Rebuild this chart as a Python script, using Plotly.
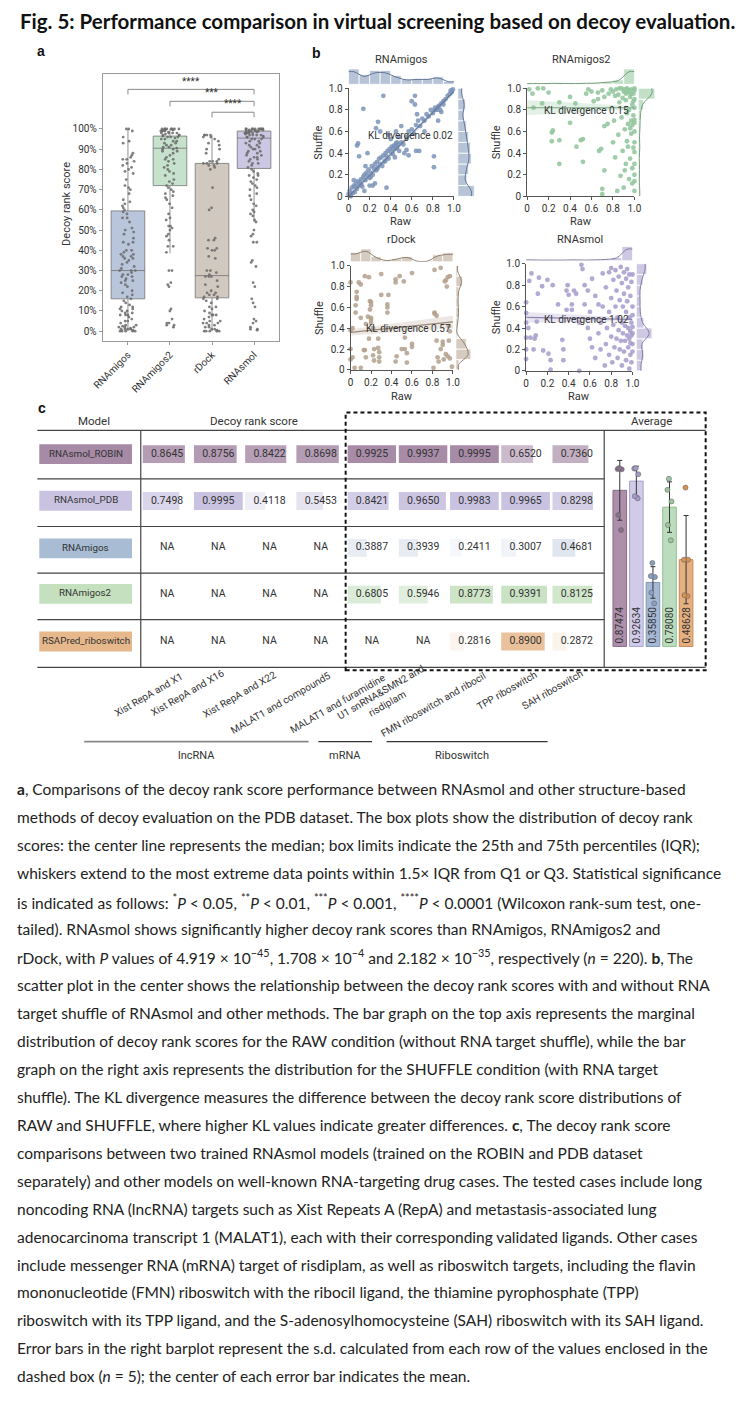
import numpy as np
import pandas as pd
import plotly.graph_objects as go

W, H = 739, 1401
def PX(x): return x / W
def PY(y): return 1 - y / H

FONT = "Roboto, Liberation Sans, Arial, sans-serif"
TXT = "#333333"

# ---------------- panel a data ----------------
box_groups = ["RNAmigos", "RNAmigos2", "rDock", "RNAsmol"]
box_q1 = [0.16, 0.72, 0.165, 0.805]
box_median = [0.30, 0.905, 0.275, 0.955]
box_q3 = [0.595, 0.965, 0.83, 0.99]
box_lower = [0.0, 0.385, 0.0, 0.54]
box_upper = [1.0, 1.0, 0.97, 1.0]
box_fill = ["rgba(140,162,196,0.62)", "rgba(160,206,172,0.6)", "rgba(178,163,148,0.6)", "rgba(172,166,212,0.62)"]

pts_rnamigos = [0, 0, 0, 0, 0.5, 1, 1, 1, 1.5, 2, 2, 2.5, 3, 3, 0, 1, 2, 4, 5, 5, 6, 7, 8, 8, 8, 9, 9, 10, 10, 11,
                11, 12, 12, 13, 14, 15, 16, 17, 18, 19, 20, 22, 23, 24, 25, 25, 26, 27, 27, 28, 28, 29, 30, 30, 30,
                31, 32, 33, 34, 35, 36, 36, 37, 37, 38, 38, 39, 40, 40, 43, 44, 44, 46, 48, 49, 50, 51, 54, 56, 56,
                58, 59, 60, 61, 62, 63, 64, 65, 68, 70, 71, 72, 75, 78, 79, 80, 81, 82, 83, 84, 85, 85, 86, 87, 88,
                93, 94, 96, 99, 100, 100]
pts_rnamigos2 = [2, 3, 3, 4, 4, 6, 10, 11, 22, 23, 24, 30, 30, 39, 42, 42, 45, 47, 48, 50, 51, 52, 52, 55, 56, 58,
                 61, 63, 65, 66, 67, 68, 69, 70, 71, 72, 73, 74, 75, 77, 78, 79, 80, 81, 82, 83, 84, 85, 85, 86, 87,
                 88, 89, 89, 90, 90, 90.5, 91, 91, 92, 92, 93, 93, 94, 94, 95, 95, 95.5, 96, 96, 96, 97, 97, 97, 98,
                 98, 98, 98, 99, 99, 99, 99, 100, 100, 100, 100, 100, 100, 100, 100, 99.5, 99.5, 98.5, 97.5, 96.5]
pts_rdock = [0, 0, 0, 0, 0, 0.5, 1, 1, 2, 2, 3, 3, 4, 4, 4, 5, 5, 6, 7, 8, 8, 8, 9, 10, 11, 12, 12, 14, 15, 16, 16,
             17, 17, 18, 18, 19, 19, 20, 22, 23, 25, 27, 27, 27, 28, 29, 30, 30, 36, 37, 40, 40, 41, 41, 45, 45, 46,
             60, 61, 71, 80, 81, 82, 82, 83, 83, 83, 84, 84, 84, 85, 88, 90, 90, 92, 93, 94, 95, 96, 96, 97, 97, 97, 97]
pts_rnasmol = [0.5, 1, 1, 2, 4, 5, 6, 12, 14, 16, 22, 24, 32, 34, 35, 44, 44, 47, 48, 50, 54, 55, 57, 58, 59, 60, 62,
               63, 65, 67, 68, 70, 71, 72, 73, 74, 75, 76, 77, 77, 78, 79, 80, 81, 82, 83, 83, 84, 85, 85, 86, 86, 87,
               87, 88, 88, 89, 89, 90, 90, 91, 91, 92, 92, 93, 93, 94, 94, 95, 95, 95, 96, 96, 96, 97, 97, 97, 97, 98,
               98, 98, 98, 98, 99, 99, 99, 99, 99, 99, 100, 100, 100, 100, 100, 100, 100, 100, 100, 100, 99.5, 99.5,
               98.5, 98.5, 97.5, 96.5]
box_points = [pts_rnamigos, pts_rnamigos2, pts_rdock, pts_rnasmol]

sig_left = ["RNAmigos", "RNAmigos2", "rDock"]
sig_right = ["RNAsmol", "RNAsmol", "RNAsmol"]
sig_labels = ["****", "***", "****"]
sig_y = [1.196, 1.137, 1.083]

# ---------------- panel b data ----------------
jp_names = ["RNAmigos", "RNAmigos2", "rDock", "RNAsmol"]
jp_rgb = [(123, 147, 184), (143, 196, 154), (179, 160, 140), (166, 155, 203)]
kl_values = [0.02, 0.15, 0.57, 1.02]
kl_pos_x = [0.59, 0.55, 0.57, 0.57]
kl_pos_y = [0.56, 0.79, 0.40, 0.48]
fit_intercept = [0.0, 0.82, 0.36, 0.50]
fit_slope = [0.97, 0.0, 0.10, -0.02]
fit_band_left = [0.02, 0.07, 0.03, 0.05]
fit_band_right = [0.02, 0.015, 0.06, 0.015]

pairs_rnamigos = [(0.00,0.02),(0.01,0.05),(0.02,0.01),(0.03,0.08),(0.04,0.03),(0.05,0.10),(0.06,0.04),(0.07,0.12),
    (0.08,0.07),(0.09,0.14),(0.10,0.10),(0.11,0.13),(0.12,0.16),(0.13,0.09),(0.14,0.18),(0.15,0.20),(0.16,0.15),
    (0.17,0.22),(0.18,0.19),(0.19,0.25),(0.20,0.17),(0.21,0.22),(0.22,0.28),(0.23,0.20),(0.24,0.26),(0.25,0.30),
    (0.26,0.24),(0.27,0.32),(0.28,0.27),(0.29,0.35),(0.30,0.30),(0.31,0.36),(0.32,0.28),(0.33,0.38),(0.34,0.32),
    (0.35,0.40),(0.36,0.37),(0.37,0.42),(0.38,0.35),(0.39,0.44),(0.40,0.41),(0.41,0.46),(0.42,0.39),(0.43,0.47),
    (0.44,0.44),(0.45,0.49),(0.46,0.45),(0.47,0.48),(0.48,0.42),(0.50,0.50),(0.52,0.48),(0.55,0.55),(0.57,0.60),
    (0.60,0.62),(0.62,0.58),(0.64,0.66),(0.66,0.70),(0.68,0.65),(0.70,0.72),(0.72,0.70),(0.74,0.76),(0.76,0.74),
    (0.78,0.80),(0.80,0.77),(0.82,0.82),(0.84,0.80),(0.86,0.84),(0.88,0.86),(0.90,0.88),(0.92,0.90),(0.94,0.93),
    (0.96,0.95),(0.98,0.97),(0.99,0.99),(0.97,0.98),(0.33,0.93),(0.63,0.93),(0.14,0.81),(0.09,0.49),(0.08,0.47),
    (0.28,0.69),(0.26,0.63),(0.30,0.60),(0.38,0.57),(0.40,0.53),(0.18,0.40),(0.10,0.37),(0.60,0.88),(0.63,0.85),
    (0.64,0.42),(0.67,0.42),(0.81,0.27),(0.81,0.37),(0.36,0.08),(0.55,0.43),(0.57,0.38),(0.15,0.05),(0.20,0.10),
    (0.05,0.15),(0.25,0.12),(0.45,0.60),(0.50,0.65),(0.72,0.60),(0.85,0.70),(0.88,0.78),(0.65,0.76),(0.23,0.10),
    (0.16,0.28),(0.44,0.36),(0.53,0.40),(0.48,0.55),(0.02,0.00),(0.03,0.03),(0.06,0.09),(0.12,0.11),(0.21,0.18),
    (0.27,0.25),(0.35,0.33),(0.42,0.44),(0.46,0.50),(0.44,0.47),(0.82,0.80),(0.85,0.83),(0.87,0.80),(0.90,0.85)]
pairs_rnamigos2 = [(0.02,0.99),(0.05,0.95),(0.10,1.00),(0.15,1.00),(0.06,0.82),(0.14,0.86),(0.23,0.59),(0.24,0.61),
    (0.23,0.51),(0.30,0.52),(0.30,0.30),(0.20,0.96),(0.30,0.87),(0.40,0.68),(0.40,0.92),(0.45,0.86),(0.46,0.46),
    (0.50,0.52),(0.52,0.53),(0.52,0.32),(0.55,0.95),(0.57,0.99),(0.60,0.97),(0.62,0.88),(0.66,0.90),(0.67,0.42),
    (0.69,0.44),(0.70,0.02),(0.70,0.07),(0.72,0.24),(0.72,0.65),(0.75,0.67),(0.76,0.95),(0.78,0.99),(0.80,0.50),
    (0.81,0.70),(0.82,0.36),(0.82,0.93),(0.84,0.05),(0.85,0.57),(0.86,0.87),(0.87,0.19),(0.88,0.73),(0.89,0.42),
    (0.90,0.08),(0.90,0.97),(0.91,0.24),(0.91,0.62),(0.92,0.30),(0.92,0.89),(0.93,0.51),(0.93,1.00),(0.94,0.67),
    (0.94,0.46),(0.95,0.16),(0.95,0.80),(0.96,0.92),(0.96,0.35),(0.97,0.70),(0.97,0.99),(0.97,0.58),(0.98,0.26),
    (0.98,0.85),(0.98,0.12),(0.99,0.95),(0.99,0.45),(0.99,0.75),(1.00,1.00),(1.00,0.98),(1.00,0.90),(1.00,0.82),
    (1.00,0.71),(1.00,0.60),(1.00,0.50),(1.00,0.41),(1.00,0.30),(1.00,0.20),(1.00,0.14),(1.00,0.05),(1.00,0.68),
    (0.95,0.98),(0.88,1.00),(0.83,0.99),(0.91,0.99),(0.97,0.95),(0.99,0.88),(0.93,0.77),(0.98,0.66),(0.96,0.63),
    (0.80,0.97),(0.85,0.94),(0.89,0.91),(0.94,0.96),(0.72,0.92),(0.70,0.98),(0.66,0.96),(0.86,1.00),(0.92,0.95)]
pairs_rdock = [(0.00,0.10),(0.00,0.20),(0.00,0.38),(0.00,0.84),(0.02,0.12),(0.02,0.40),(0.04,0.02),(0.05,0.55),
    (0.05,0.62),(0.06,0.70),(0.06,0.75),(0.06,0.68),(0.08,0.84),(0.10,0.50),(0.10,0.82),(0.10,0.02),(0.13,0.19),
    (0.14,0.19),(0.14,0.90),(0.15,0.12),(0.15,0.44),(0.17,0.51),(0.18,0.89),(0.19,0.58),(0.19,0.66),(0.20,0.45),
    (0.20,0.48),(0.20,0.50),(0.18,0.30),(0.20,0.62),(0.20,0.65),(0.22,0.14),(0.22,0.40),(0.23,0.20),(0.23,0.09),
    (0.27,0.30),(0.27,0.21),(0.28,0.12),(0.28,0.17),(0.28,0.08),(0.30,0.92),(0.30,0.72),(0.36,0.63),(0.36,0.55),
    (0.36,0.60),(0.37,0.72),(0.44,0.87),(0.44,0.84),(0.44,0.08),(0.45,0.13),(0.48,0.90),(0.50,0.20),(0.52,0.85),
    (0.53,0.31),(0.53,0.20),(0.55,0.07),(0.55,0.16),(0.60,0.93),(0.60,0.25),(0.60,0.22),(0.81,0.02),(0.82,0.96),
    (0.82,0.55),(0.82,0.54),(0.84,0.28),(0.84,0.52),(0.85,0.12),(0.86,0.08),(0.88,0.98),(0.88,0.20),(0.90,0.24),
    (0.90,0.27),(0.91,0.10),(0.92,0.85),(0.93,0.86),(0.93,0.15),(0.94,0.80),(0.95,0.89),(0.95,0.13),(0.96,0.28),
    (0.96,0.42),(0.97,0.90),(0.97,0.37),(0.97,0.11),(0.99,0.03)]
pairs_rnasmol = [(0.00,0.64),(0.00,0.54),(0.00,0.45),(0.00,0.31),(0.00,0.20),(0.00,0.11),(0.02,0.40),(0.03,0.84),
    (0.04,0.31),(0.05,0.91),(0.07,0.20),(0.08,0.30),(0.09,0.33),(0.10,0.46),(0.11,0.72),(0.12,0.87),(0.15,0.79),
    (0.16,0.19),(0.20,0.85),(0.21,0.16),(0.23,0.10),(0.23,0.01),(0.25,0.80),(0.30,0.62),(0.34,0.29),(0.35,0.10),
    (0.35,0.20),(0.38,0.75),(0.38,0.57),(0.39,0.80),(0.40,0.71),(0.43,0.62),(0.43,0.57),(0.45,0.75),(0.47,0.72),
    (0.50,0.45),(0.50,0.00),(0.52,0.99),(0.53,0.95),(0.55,0.80),(0.55,0.62),(0.58,0.40),(0.58,0.75),(0.60,0.30),
    (0.60,0.55),(0.62,0.86),(0.62,0.22),(0.65,0.12),(0.65,0.70),(0.68,0.35),(0.68,0.62),(0.70,0.20),(0.70,0.45),
    (0.72,0.91),(0.72,0.60),(0.74,0.05),(0.75,0.25),(0.75,0.78),(0.76,0.40),(0.78,0.92),(0.78,0.15),(0.78,0.55),
    (0.80,0.32),(0.80,0.96),(0.80,0.68),(0.81,0.08),(0.82,0.85),(0.82,0.43),(0.83,0.22),(0.84,0.60),(0.84,0.94),
    (0.85,0.30),(0.85,0.75),(0.86,0.12),(0.86,0.50),(0.87,0.88),(0.87,0.38),(0.88,0.20),(0.88,0.66),(0.89,0.97),
    (0.89,0.28),(0.90,0.45),(0.90,0.82),(0.90,0.05),(0.91,0.35),(0.91,0.60),(0.92,0.92),(0.92,0.18),(0.92,0.72),
    (0.93,0.42),(0.93,0.28),(0.94,0.86),(0.94,0.10),(0.94,0.55),(0.95,0.33),(0.95,0.95),(0.95,0.65),(0.96,0.22),
    (0.96,0.40),(0.96,0.78),(0.97,0.30),(0.97,0.02),(0.97,0.90),(0.97,0.50),(0.98,0.37),(0.98,0.15),(0.98,0.70),
    (0.98,0.26),(0.99,0.45),(0.99,0.83),(0.99,0.33),(0.99,0.08),(1.00,0.35),(1.00,0.60),(1.00,0.25),(1.00,0.90),
    (1.00,0.41),(1.00,0.18),(1.00,0.52)]
jp_pairs = [pairs_rnamigos, pairs_rnamigos2, pairs_rdock, pairs_rnasmol]

hist_bins = [0.05, 0.15, 0.25, 0.35, 0.45, 0.55, 0.65, 0.75, 0.85, 0.95]
hist_raw = [[53, 33, 48, 48, 30, 18, 20, 20, 26, 10],
            [2, 2, 3, 2, 2, 3, 4, 8, 15, 53],
            [37, 50, 20, 5, 12, 20, 2, 2, 27, 35],
            [3, 2, 2, 2, 3, 2, 3, 5, 12, 52]]
hist_shuffle = [[55, 30, 35, 45, 42, 35, 28, 20, 25, 15],
                [5, 3, 4, 3, 5, 4, 6, 8, 18, 58],
                [10, 50, 35, 4, 6, 10, 8, 10, 22, 6],
                [18, 25, 22, 52, 25, 15, 14, 14, 22, 35]]

# ---------------- panel c data ----------------
case_labels = ["Xist RepA and X1", "Xist RepA and X16", "Xist RepA and X22", "MALAT1 and compound5",
               "MALAT1 and furamidine", "U1 snRNA&amp;SMN2 and<br>risdiplam", "FMN riboswitch and ribocil",
               "TPP riboswitch", "SAH riboswitch"]
model_names = ["RNAsmol_ROBIN", "RNAsmol_PDB", "RNAmigos", "RNAmigos2", "RSAPred_riboswitch"]
score_robin = [0.8645, 0.8756, 0.8422, 0.8698, 0.9925, 0.9937, 0.9995, 0.6520, 0.7360]
score_pdb = [0.7498, 0.9995, 0.4118, 0.5453, 0.8421, 0.9650, 0.9983, 0.9965, 0.8298]
score_rnamigos = [None, None, None, None, 0.3887, 0.3939, 0.2411, 0.3007, 0.4681]
score_rnamigos2 = [None, None, None, None, 0.6805, 0.5946, 0.8773, 0.9391, 0.8125]
score_rsapred = [None, None, None, None, None, None, 0.2816, 0.8900, 0.2872]
avg_labels = ["0.87474", "0.92634", "0.35850", "0.78080", "0.48628"]
model_colors = ["#a68aa6", "#c9c3e1", "#a8bcd4", "#c4e0be", "#e6b88c"]
avg_fill = ["rgba(150,112,148,0.78)", "rgba(196,190,226,0.8)", "rgba(140,164,200,0.78)",
            "rgba(170,212,172,0.8)", "rgba(224,158,100,0.82)"]
avg_edge = ["#8a6d88", "#a9a3cc", "#7f96b8", "#94bf94", "#c98a52"]
avg_pts = ["#8c6f8c", "#a29ccb", "#8aa0c2", "#9cc79e", "#d99150"]
group_names = ["lncRNA", "mRNA", "Riboswitch"]

score_df = pd.DataFrame([score_robin, score_pdb, score_rnamigos, score_rnamigos2, score_rsapred],
                        index=model_names, dtype=float)
dashed = score_df.iloc[:, 4:9]
avg_mean = dashed.mean(axis=1, skipna=True)
dashed_filled = dashed.apply(lambda r: r.fillna(r.mean()), axis=1)
avg_sd = dashed_filled.std(axis=1, ddof=1)

# ---------------- figure ----------------
fig = go.Figure()
ann = []
shapes = []
lay = {}

def A(x, y, text, size=11, color=TXT, family=FONT, xanchor="center", yanchor="middle", **kw):
    ann.append(dict(x=PX(x), y=PY(y), xref="paper", yref="paper", text=text, showarrow=False,
                    xanchor=xanchor, yanchor=yanchor, font=dict(size=size, color=color, family=family), **kw))

def axis_off(**kw):
    d = dict(visible=False, showgrid=False, zeroline=False)
    d.update(kw)
    return d

# ---- panel a ----
lay["xaxis"] = dict(domain=[PX(94), PX(275)], anchor="y", type="category", range=[-0.6, 3.6],
                    showline=True, mirror=True, linecolor="#9a9a9a", linewidth=1, ticks="outside", ticklen=3,
                    tickcolor="#9a9a9a", tickangle=-45, tickfont=dict(size=10, color=TXT, family=FONT),
                    showgrid=False, zeroline=False, categoryorder="array", categoryarray=box_groups)
lay["yaxis"] = dict(domain=[PY(338), PY(69)], anchor="x", range=[-0.049, 1.27],
                    tickvals=[i / 10 for i in range(11)], ticktext=[f"{i * 10}%" for i in range(11)],
                    showline=True, mirror=True, linecolor="#9a9a9a", linewidth=1, ticks="outside", ticklen=3,
                    tickcolor="#9a9a9a", tickfont=dict(size=10, color=TXT, family=FONT),
                    showgrid=False, zeroline=False)
A(57, 200, "Decoy rank score", size=11, textangle=-90)
for i, g in enumerate(box_groups):
    fig.add_trace(go.Box(x=[g], q1=[box_q1[i]], median=[box_median[i]], q3=[box_q3[i]],
                         lowerfence=[box_lower[i]], upperfence=[box_upper[i]], boxpoints=False,
                         fillcolor=box_fill[i], line=dict(color="rgba(110,110,110,0.75)", width=1),
                         width=0.8, showlegend=False, xaxis="x", yaxis="y", whiskerwidth=0))
    fig.add_trace(go.Box(x=[g] * len(box_points[i]), y=[v / 100 for v in box_points[i]], boxpoints="all",
                         jitter=0.55, pointpos=0, fillcolor="rgba(0,0,0,0)", line=dict(color="rgba(0,0,0,0)"),
                         marker=dict(color="#6a6a6a", size=2.8, opacity=0.85), width=0.8, showlegend=False,
                         xaxis="x", yaxis="y"))
for l, r, s, yv in zip(sig_left, sig_right, sig_labels, sig_y):
    fig.add_trace(go.Scatter(x=[l, l, r, r], y=[yv - 0.025, yv, yv, yv - 0.025], mode="lines",
                             line=dict(color="#8a8a8a", width=1), showlegend=False, xaxis="x", yaxis="y"))
    mid = (box_groups.index(l) + box_groups.index(r)) / 2
    ann.append(dict(x=mid, y=yv + 0.004, xref="x", yref="y", text=s, showarrow=False, xanchor="center",
                    yanchor="bottom", font=dict(size=10, color=TXT, family=FONT)))

# ---- panel b ----
jp_dom = [dict(x=(346, 454), y=(83, 192), top=(62, 79), right=(458, 477), title=(400, 54), sh=315, raw=217),
          dict(x=(529, 639), y=(83, 192), top=(62, 79), right=(643, 661), title=(585, 54), sh=497, raw=217),
          dict(x=(348, 453), y=(262, 367), top=(243, 258), right=(456, 475), title=(400, 236), sh=317, raw=394),
          dict(x=(528, 637), y=(260, 368), top=(241, 257), right=(641, 660), title=(583, 236), sh=497, raw=394)]
tick_v = [0, 0.2, 0.4, 0.6, 0.8, 1.0]
tick_t = ["0", "0.2", "0.4", "0.6", "0.8", "1.0"]
for k in range(4):
    d = jp_dom[k]
    n = 2 + 3 * k
    common = dict(range=[0, 1], showline=True, linecolor="#555", linewidth=1, ticks="outside", ticklen=3,
                  tickcolor="#555", tickvals=tick_v, ticktext=tick_t,
                  tickfont=dict(size=10, color=TXT, family=FONT), showgrid=False, zeroline=False)
    lay[f"xaxis{n}"] = dict(domain=[PX(d["x"][0]), PX(d["x"][1])], anchor=f"y{n}", **common)
    lay[f"yaxis{n}"] = dict(domain=[PY(d["y"][1]), PY(d["y"][0])], anchor=f"x{n}", **common)
    lay[f"xaxis{n+1}"] = axis_off(domain=[PX(d["x"][0]), PX(d["x"][1])], anchor=f"y{n+1}", range=[0, 1])
    lay[f"yaxis{n+1}"] = axis_off(domain=[PY(d["top"][1]), PY(d["top"][0])], anchor=f"x{n+1}", range=[0, 58])
    lay[f"xaxis{n+2}"] = axis_off(domain=[PX(d["right"][0]), PX(d["right"][1])], anchor=f"y{n+2}", range=[0, 62])
    lay[f"yaxis{n+2}"] = axis_off(domain=[PY(d["y"][1]), PY(d["y"][0])], anchor=f"x{n+2}", range=[0, 1])
    r_, g_, b_ = jp_rgb[k]
    a0, b0 = fit_intercept[k], fit_slope[k]
    ylo = [a0 - fit_band_left[k], a0 + b0 - fit_band_right[k]]
    yhi = [a0 + fit_band_left[k], a0 + b0 + fit_band_right[k]]
    fig.add_trace(go.Scatter(x=[0, 1, 1, 0, 0], y=[ylo[0], ylo[1], yhi[1], yhi[0], ylo[0]], fill="toself",
                             fillcolor=f"rgba({r_},{g_},{b_},0.25)", line=dict(width=0), mode="lines",
                             showlegend=False, xaxis=f"x{n}", yaxis=f"y{n}"))
    xs = [p[0] for p in jp_pairs[k]]
    ys = [p[1] for p in jp_pairs[k]]
    fig.add_trace(go.Scatter(x=xs, y=ys, mode="markers", cliponaxis=False,
                             marker=dict(color=f"rgba({r_},{g_},{b_},0.85)", size=4.8),
                             showlegend=False, xaxis=f"x{n}", yaxis=f"y{n}"))
    fig.add_trace(go.Scatter(x=[0, 1], y=[a0, a0 + b0], mode="lines",
                             line=dict(color=f"rgb({int(r_*0.85)},{int(g_*0.85)},{int(b_*0.85)})", width=1.2),
                             showlegend=False, xaxis=f"x{n}", yaxis=f"y{n}"))
    fig.add_trace(go.Bar(x=hist_bins, y=hist_raw[k], width=0.1,
                         marker=dict(color=f"rgba({r_},{g_},{b_},0.55)", line=dict(color="white", width=0.8)),
                         showlegend=False, xaxis=f"x{n+1}", yaxis=f"y{n+1}"))
    kx = [0] + hist_bins + [1]
    ky = [hist_raw[k][0]] + hist_raw[k] + [hist_raw[k][-1]]
    fig.add_trace(go.Scatter(x=kx, y=[v * 0.8 + 1 for v in ky], mode="lines", line_shape="spline",
                             line=dict(color=f"rgb({int(r_*0.8)},{int(g_*0.8)},{int(b_*0.8)})", width=1),
                             showlegend=False, xaxis=f"x{n+1}", yaxis=f"y{n+1}"))
    fig.add_trace(go.Bar(y=hist_bins, x=hist_shuffle[k], width=0.1, orientation="h",
                         marker=dict(color=f"rgba({r_},{g_},{b_},0.55)", line=dict(color="white", width=0.8)),
                         showlegend=False, xaxis=f"x{n+2}", yaxis=f"y{n+2}"))
    ky2 = [hist_shuffle[k][0]] + hist_shuffle[k] + [hist_shuffle[k][-1]]
    fig.add_trace(go.Scatter(y=kx, x=[v * 0.8 + 1 for v in ky2], mode="lines", line_shape="spline",
                             line=dict(color=f"rgb({int(r_*0.8)},{int(g_*0.8)},{int(b_*0.8)})", width=1),
                             showlegend=False, xaxis=f"x{n+2}", yaxis=f"y{n+2}"))
    ann.append(dict(x=kl_pos_x[k], y=kl_pos_y[k], xref=f"x{n}", yref=f"y{n}", xanchor="center",
                    yanchor="middle", text=f"KL divergence {kl_values[k]:.2f}", showarrow=False,
                    font=dict(size=10, color=TXT, family=FONT)))
    A(d["title"][0], d["title"][1], jp_names[k], size=11)
    A(d["sh"], (d["y"][0] + d["y"][1]) / 2, "Shuffle", size=11, textangle=-90)
    A((d["x"][0] + d["x"][1]) / 2, d["raw"], "Raw", size=11)

# ---- panel c table ----
lay["xaxis14"] = axis_off(domain=[0, 1], anchor="y14", range=[-135 / 50, (739 - 135) / 50])
lay["yaxis14"] = axis_off(domain=[PY(667), PY(428)], anchor="x14", range=[4.55, -0.508])

def mix(hexc, t):
    r, g, b = int(hexc[1:3], 16), int(hexc[3:5], 16), int(hexc[5:7], 16)
    return f"rgb({round(255 + (r - 255) * t)},{round(255 + (g - 255) * t)},{round(255 + (b - 255) * t)})"

gmin, gmax = np.nanmin(score_df.values), np.nanmax(score_df.values)
bx, by, bbase, bcol, tx, ty, tt = [], [], [], [], [], [], []
for r, m in enumerate(model_names):
    row = score_df.loc[m]
    for c in range(len(case_labels)):
        v = row.iloc[c]
        tx.append(c * 1.05 + 0.5)
        ty.append(r)
        if pd.isna(v):
            tt.append("NA")
            continue
        tt.append(f"{v:.4f}")
        t = 0.1 + 0.9 * (v - gmin) / (gmax - gmin)
        bx.append(v)
        by.append(r)
        bbase.append(c * 1.05)
        bcol.append(mix(model_colors[r], t))
fig.add_trace(go.Bar(x=bx, y=by, base=bbase, orientation="h", width=0.38, marker=dict(color=bcol, line=dict(width=0)),
                     showlegend=False, xaxis="x14", yaxis="y14"))
fig.add_trace(go.Scatter(x=tx, y=ty, text=tt, mode="text", textfont=dict(size=10.5, color=TXT, family=FONT),
                         showlegend=False, xaxis="x14", yaxis="y14"))

row_y = [452, 499, 547, 593, 641]
for r, m in enumerate(model_names):
    shapes.append(dict(type="rect", xref="paper", yref="paper", x0=PX(29), x1=PX(124), y0=PY(row_y[r] + 10),
                       y1=PY(row_y[r] - 10), fillcolor=model_colors[r], line=dict(width=0), layer="below"))
    A(76.5, row_y[r] - 1, m, size=9.8)

def hline(y, x0, x1, color="#444", w=1.2, dash=None):
    shapes.append(dict(type="line", xref="paper", yref="paper", x0=PX(x0), x1=PX(x1), y0=PY(y), y1=PY(y),
                       line=dict(color=color, width=w, dash=dash)))

hline(428, 27, 712)
for yv in [477, 525, 572, 619]:
    hline(yv, 27, 608)
hline(667, 27, 712)
for xv in [133, 608]:
    shapes.append(dict(type="line", xref="paper", yref="paper", x0=PX(xv), x1=PX(xv), y0=PY(428), y1=PY(667),
                       line=dict(color="#444", width=1.2)))
shapes.append(dict(type="rect", xref="paper", yref="paper", x0=PX(343), x1=PX(712), y0=PY(670), y1=PY(410),
                   line=dict(color="#111", width=2, dash="4px,3px"), fillcolor="rgba(0,0,0,0)"))

A(85, 419, "Model", size=11.5)
A(249, 419, "Decoy rank score", size=11.5)
A(656, 419, "Average", size=11.5)

case_pos = [(141, 694), (181, 692), (234, 694), (277, 703), (335, 704), (382, 698), (433, 705), (508, 690), (555, 689)]
for lab, (cx, cy) in zip(case_labels, case_pos):
    A(cx, cy, lab, size=10, textangle=-30)

grp_lines = [(75, 305, "#888", 1.8), (315, 370, "#333", 1.2), (385, 550, "#333", 1.2)]
grp_lab_x = [190, 342, 462]
for (x0, x1, col, w), gname, gx in zip(grp_lines, group_names, grp_lab_x):
    hline(742, x0, x1, col, w)
    A(gx, 756, gname, size=11)

# ---- average barplot ----
lay["xaxis15"] = axis_off(domain=[PX(608), PX(712)], anchor="y15", range=[-0.94, 5.18])
lay["yaxis15"] = axis_off(domain=[PY(667), PY(428)], anchor="x15", range=[-0.117, 1.211])
fig.add_trace(go.Bar(x=list(range(5)), y=avg_mean.values, width=0.82,
                     marker=dict(color=avg_fill, line=dict(color=avg_edge, width=1)),
                     error_y=dict(type="data", array=avg_sd.values, color="#333", thickness=1, width=2.5),
                     text=avg_labels, textposition="inside", insidetextanchor="start",
                     textangle=-90, textfont=dict(size=10, color=TXT, family=FONT), constraintext="none",
                     showlegend=False, xaxis="x15", yaxis="y15"))
for i, m in enumerate(model_names):
    vals = dashed_filled.loc[m].values
    fig.add_trace(go.Box(x=[i] * len(vals), y=vals, boxpoints="all", jitter=0.6, pointpos=0, width=0.5,
                         fillcolor="rgba(0,0,0,0)", line=dict(color="rgba(0,0,0,0)"),
                         marker=dict(color=avg_pts[i], size=5, line=dict(color="#666", width=0.6)),
                         showlegend=False, xaxis="x15", yaxis="y15"))

# ---- title, panel letters ----
A(7, 15, "<b>Fig. 5: Performance comparison in virtual screening based on decoy evaluation.</b>",
  size=20.5, color="#111", family="Lato, sans-serif", xanchor="left")
for letter, (lx, ly) in zip(["a", "b", "c"], [(31, 45), (313, 47), (32, 405)]):
    A(lx, ly, f"<b>{letter}</b>", size=14, color="#111", family="Liberation Sans, Arial, sans-serif")

# ---- caption ----
caption_lines = [
    "<b>a</b>, Comparisons of the decoy rank score performance between RNAsmol and other structure-based",
    "methods of decoy evaluation on the PDB dataset. The box plots show the distribution of decoy rank",
    "scores: the center line represents the median; box limits indicate the 25th and 75th percentiles (IQR);",
    "whiskers extend to the most extreme data points within 1.5× IQR from Q1 or Q3. Statistical significance",
    "is indicated as follows: <sup>*</sup><i>P</i> &lt; 0.05, <sup>**</sup><i>P</i> &lt; 0.01, <sup>***</sup><i>P</i> &lt; 0.001, <sup>****</sup><i>P</i> &lt; 0.0001 (Wilcoxon rank-sum test, one-",
    "tailed). RNAsmol shows significantly higher decoy rank scores than RNAmigos, RNAmigos2 and",
    "rDock, with <i>P</i> values of 4.919 × 10<sup>−45</sup>, 1.708 × 10<sup>−4</sup> and 2.182 × 10<sup>−35</sup>, respectively (<i>n</i> = 220). <b>b</b>, The",
    "scatter plot in the center shows the relationship between the decoy rank scores with and without RNA",
    "target shuffle of RNAsmol and other methods. The bar graph on the top axis represents the marginal",
    "distribution of decoy rank scores for the RAW condition (without RNA target shuffle), while the bar",
    "graph on the right axis represents the distribution for the SHUFFLE condition (with RNA target",
    "shuffle). The KL divergence measures the difference between the decoy rank score distributions of",
    "RAW and SHUFFLE, where higher KL values indicate greater differences. <b>c</b>, The decoy rank score",
    "comparisons between two trained RNAsmol models (trained on the ROBIN and PDB dataset",
    "separately) and other models on well-known RNA-targeting drug cases. The tested cases include long",
    "noncoding RNA (lncRNA) targets such as Xist Repeats A (RepA) and metastasis-associated lung",
    "adenocarcinoma transcript 1 (MALAT1), each with their corresponding validated ligands. Other cases",
    "include messenger RNA (mRNA) target of risdiplam, as well as riboswitch targets, including the flavin",
    "mononucleotide (FMN) riboswitch with the ribocil ligand, the thiamine pyrophosphate (TPP)",
    "riboswitch with its TPP ligand, and the S-adenosylhomocysteine (SAH) riboswitch with its SAH ligand.",
    "Error bars in the right barplot represent the s.d. calculated from each row of the values enclosed in the",
    "dashed box (<i>n</i> = 5); the center of each error bar indicates the mean.",
]
for i, line in enumerate(caption_lines):
    A(4, 790 + 28.2 * i, line, size=15.5, color="#222", family="Lato, sans-serif", xanchor="left")

fig.update_layout(width=W, height=H, autosize=False, margin=dict(l=0, r=0, t=0, b=0),
                  paper_bgcolor="white", plot_bgcolor="rgba(0,0,0,0)", showlegend=False,
                  barmode="overlay", boxmode="overlay", font=dict(family=FONT, color=TXT),
                  annotations=ann, shapes=shapes, **lay)
fig.write_html("out.html", config={"displayModeBar": False},
               post_script="document.body.style.margin='0px';")
